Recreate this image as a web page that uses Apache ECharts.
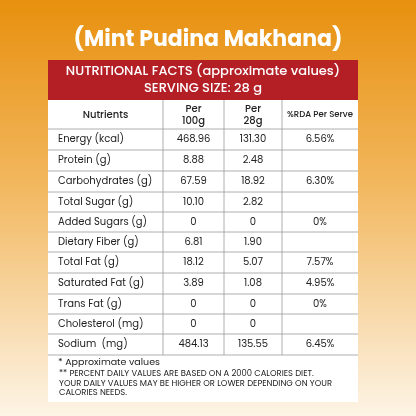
<!DOCTYPE html><html><head><meta charset="utf-8"><script src="https://cdn.jsdelivr.net/npm/echarts@6/dist/echarts.min.js"></script>
<style>html,body{margin:0;padding:0}#c{width:416px;height:416px}</style></head><body><div id="c"></div><script>
const title='(Mint Pudina Makhana)';
const headerLines=['NUTRITIONAL FACTS (approximate values)','SERVING SIZE: 28 g'];
const columns=['Nutrients','Per\n100g','Per\n28g','%RDA Per Serve'];
const nutrients=['Energy (kcal)','Protein (g)','Carbohydrates (g)','Total Sugar (g)','Added Sugars (g)','Dietary Fiber (g)','Total Fat (g)','Saturated Fat (g)','Trans Fat (g)','Cholesterol (mg)','Sodium  (mg)'];
const per100=['468.96','8.88','67.59','10.10','0','6.81','18.12','3.89','0','0','484.13'];
const per28=['131.30','2.48','18.92','2.82','0','1.90','5.07','1.08','0','0','135.55'];
const rda=['6.56%','','6.30%','','0%','','7.57%','4.95%','0%','','6.45%'];
const footnotes=['* Approximate values','** PERCENT DAILY VALUES ARE BASED ON A 2000 CALORIES DIET.','YOUR DAILY VALUES MAY BE HIGHER OR LOWER DEPENDING ON YOUR','CALORIES NEEDS.'];
const colX=[48,163,224,282,358];
const rowY=[129,150,171,192,212,232,252,273,294,314,334,355];
const footY=[363,374,383.5,393];
const F='Poppins, "Open Sans", Roboto, sans-serif';
const g=[];
g.push({type:'rect',shape:{x:0,y:0,width:416,height:416},style:{fill:new echarts.graphic.LinearGradient(0,0,0,1,[{offset:0,color:'#e8900e'},{offset:0.45,color:'#f2b860'},{offset:1,color:'#fdf4e6'}])},z:0});
g.push({type:'text',x:208,y:40,style:{text:title,fill:'#fff',font:'bold 22px '+F,align:'center',verticalAlign:'middle'},z:2});
g.push({type:'rect',shape:{x:48,y:100,width:310,height:302},style:{fill:'#fff'},z:1});
g.push({type:'rect',shape:{x:48,y:60,width:310,height:40},style:{fill:'#b41f26'},z:1});
headerLines.forEach((t,i)=>g.push({type:'text',x:203,y:72+i*17,style:{text:t,fill:'#fff',font:'500 13px '+F,align:'center',verticalAlign:'middle'},z:2}));
const line=(x1,y1,x2,y2)=>g.push({type:'line',shape:{x1,y1,x2,y2},style:{stroke:'#999',lineWidth:0.8},z:2});
line(48,129,358,129);
rowY.slice(1).forEach(y=>line(48,y,358,y));
colX.slice(1,4).forEach(x=>line(x,100,x,355));
const cx=i=>(colX[i]+colX[i+1])/2;
columns.forEach((t,i)=>g.push({type:'text',x:cx(i),y:115,style:{text:t,fill:'#222',font:(i==3?'500 8.5px ':'500 10px ')+F,align:'center',verticalAlign:'middle',lineHeight:12},z:2}));
nutrients.forEach((n,r)=>{
 const y=(rowY[r]+rowY[r+1])/2;
 g.push({type:'text',x:58,y,style:{text:n,fill:'#222',font:'10px '+F,verticalAlign:'middle'},z:2});
 [per100[r],per28[r],rda[r]].forEach((v,i)=>g.push({type:'text',x:cx(i+1),y,style:{text:v,fill:'#222',font:'10px '+F,align:'center',verticalAlign:'middle'},z:2}));
});
footnotes.forEach((t,i)=>g.push({type:'text',x:i==0?58:59,y:footY[i],style:{text:t,fill:'#222',font:(i==0?'9.5px ':'8.4px ')+F,verticalAlign:'middle'},z:2}));
const ch=echarts.init(document.getElementById('c'));
ch.setOption({graphic:g});
</script></body></html>
